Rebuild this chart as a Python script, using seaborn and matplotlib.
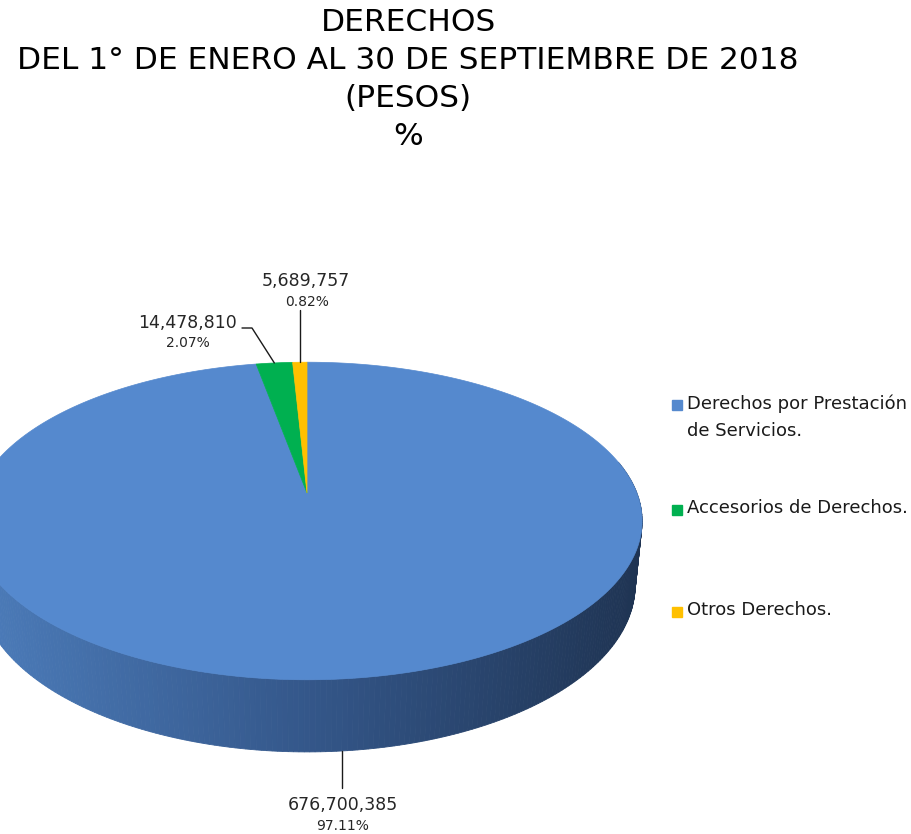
import numpy as np
import matplotlib
matplotlib.use("Agg")
import matplotlib.pyplot as plt
import seaborn as sns
from matplotlib.patches import Polygon

# chart data
categories = ["Derechos por Prestación\nde Servicios.", "Accesorios de Derechos.", "Otros Derechos."]
values = [676700385, 14478810, 5689757]
value_labels = ["676,700,385", "14,478,810", "5,689,757"]
pct_labels = ["97.11%", "2.07%", "0.82%"]
title_lines = ["DERECHOS", "DEL 1° DE ENERO AL 30 DE SEPTIEMBRE DE 2018", "(PESOS)", "%"]

colors = ["#5589CE", "#00B050", "#FFC000"]
side_colors = ["#4C7CBA", "#34578A", "#1F3453"]

sns.set_theme(style="white")
plt.rcParams["font.family"] = ["DejaVu Sans"]

fig = plt.figure(figsize=(9.11, 8.34), dpi=100)
ax = fig.add_axes([0, 0, 1, 1])
ax.set_xlim(0, 911)
ax.set_ylim(834, 0)
ax.axis("off")

# simple perspective camera for the 3D pie
cx, cy = 307, 493
f, D = 1656, 5.02
tilt = np.radians(27.8)
depth = 0.222


def project(phi, z=0.0):
    x = np.cos(phi)
    y = np.sin(phi)
    s, c = np.sin(tilt), np.cos(tilt)
    w = D + y * c - z * s
    v = y * s + z * c
    return cx + f * x / w, cy - f * v / w


fracs = np.array(values) / np.sum(values)
bounds = 90 - 360 * np.concatenate([[0], np.cumsum(fracs)])

# side wall (front half), shaded left->right
side_cmap = sns.blend_palette(side_colors, as_cmap=True)
phis = np.radians(np.linspace(168, 372, 260))
xl, xr = cx - 335, cx + 335
strips = []
for p0, p1 in zip(phis[:-1], phis[1:]):
    tx0, ty0 = project(p0)
    tx1, ty1 = project(p1)
    bx1, by1 = project(p1, -depth)
    bx0, by0 = project(p0, -depth)
    t = np.clip(((tx0 + tx1) / 2 - xl) / (xr - xl), 0, 1)
    strips.append((np.sin((p0 + p1) / 2), [(tx0, ty0), (tx1, ty1), (bx1, by1), (bx0, by0)], side_cmap(t)))
for _, pts, col in sorted(strips, key=lambda s: -s[0]):
    ax.add_patch(Polygon(pts, closed=True, facecolor=col, edgecolor=col, lw=0.6))

# top face wedges
for i in range(len(values)):
    a0, a1 = bounds[i], bounds[i + 1]
    arc = np.radians(np.linspace(a0, a1, max(int(abs(a1 - a0) * 2), 4)))
    px, py = project(arc)
    pts = [(cx, cy)] + list(zip(px, py))
    ax.add_patch(Polygon(pts, closed=True, facecolor=colors[i], edgecolor=colors[i], lw=0.5))

# data labels with leader lines
mids = np.radians((bounds[:-1] + bounds[1:]) / 2)
bx, by = project(mids[0], -depth)
ax.plot([bx, bx], [by, 788], color="#1a1a1a", lw=1)
ax.text(bx, 805, value_labels[0], ha="center", va="center", fontsize=12.5, color="#262626")
ax.text(bx, 826, pct_labels[0], ha="center", va="center", fontsize=10, color="#262626")

gx, gy = project(mids[1])
ax.plot([242, 252, gx], [328, 328, gy], color="#1a1a1a", lw=1)
ax.text(188, 323, value_labels[1], ha="center", va="center", fontsize=12.5, color="#262626")
ax.text(188, 343, pct_labels[1], ha="center", va="center", fontsize=10, color="#262626")

yx, yy = project(mids[2])
ax.plot([yx, yx], [310, yy], color="#1a1a1a", lw=1)
ax.text(306, 281, value_labels[2], ha="center", va="center", fontsize=12.5, color="#262626")
ax.text(307, 302, pct_labels[2], ha="center", va="center", fontsize=10, color="#262626")

# legend
leg_y = [405, 510, 612]
for i, lab in enumerate(categories):
    ax.plot(676.5, leg_y[i], marker="s", markersize=7, color=colors[i], linestyle="none")
    ax.text(687, leg_y[i] - 11, lab, ha="left", va="top", fontsize=13, color="#1a1a1a", linespacing=1.65)

# title
for i, line in enumerate(title_lines):
    ax.text(408, 22 + 38 * i, line, ha="center", va="center", fontsize=22.5, color="#000000")

fig.savefig("out.png", dpi=100)
